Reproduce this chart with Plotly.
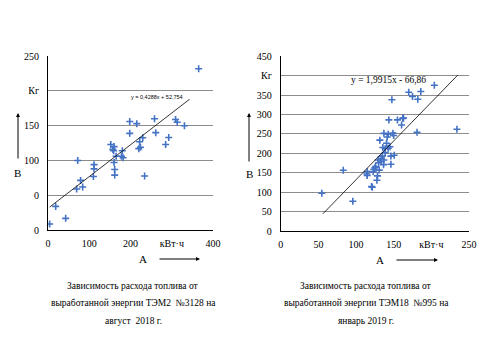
import plotly.graph_objects as go

# Left chart: ТЭМ2 №3128, август 2018
left_x = [4, 18.6, 42.8, 69.5, 72, 79, 84, 110, 111.5, 111.5, 152, 157, 160, 159, 160,
          161.6, 161.6, 165, 178, 180, 182, 198, 198, 215, 222, 220, 224, 229.5, 234,
          258, 261, 285, 292.5, 309, 313, 330.5, 365]
left_y = [8.6, 34, 16.8, 59, 100, 71.4, 61.8, 77, 88, 94, 123, 116, 120, 114, 97,
          87, 79, 106, 106, 114, 104, 156, 139, 153, 127, 117, 119, 132.7, 77.6,
          160, 140, 123, 133, 159, 155, 150, 232]
left_trend_x = [4, 343]
left_trend_y = [33, 188]
left_eq = "y = 0,4288x + 52,754"
left_yticks = [0, 50, 100, 150, 200, 250]
left_ytext = ["0", "0", "100", "150", "Кг", "250"]
left_xticks = [0, 100, 200, 300, 400]
left_xtext = ["0", "100", "200", "кВт·ч", "400"]
left_caption = ["Зависимость расхода топлива от",
                "выработанной энергии ТЭМ2  №3128 на",
                "август  2018 г."]

# Right chart: ТЭМ18 №995, январь 2019
right_x = [54.5, 83, 95.7, 114.4, 114.8, 115, 120.6, 121.5, 122.8, 123.7, 125, 126, 127.7,
           128.5, 129.4, 130, 130.8, 131.6, 133, 133.4, 134.8, 135.6, 136.5, 137, 137,
           138.7, 138.7, 140.5, 141.4, 142.7, 143.6, 142.7, 145, 146.3, 146.3, 147.6,
           149, 150, 150.7, 155, 160.5, 162, 163, 170, 175, 182, 186, 181, 204, 234]
right_y = [97.5, 156.5, 77, 147, 143, 153, 114.6, 113, 153, 159, 163, 166, 131,
           142, 183, 176, 157, 234, 179, 186.5, 193, 215, 171, 183, 251.5,
           212, 202, 226, 242, 249, 286, 213, 217, 172, 193, 338,
           252, 246, 195, 286, 273, 290, 291, 357, 346.5, 339, 359, 254, 375, 262]
right_slope = 1.9915
right_intercept = -66.86
right_trend_x = [56, 235]
right_eq = "y = 1,9915x - 66,86"
right_yticks = [0, 50, 100, 150, 200, 250, 300, 350, 400, 450]
right_ytext = ["0", "50", "100", "150", "200", "250", "300", "350", "Кг", "450"]
right_xticks = [0, 50, 100, 150, 200, 250]
right_xtext = ["0", "50", "100", "150", "кВт·ч", "250"]
right_caption = ["Зависимость расхода топлива от",
                 "выработанной энергии ТЭМ18  №995 на",
                 "январь 2019 г."]

FONT = "Liberation Serif, Times New Roman, serif"
BLUE = "#4472C4"

fig = go.Figure()
marker = dict(symbol="cross-thin", size=5, color=BLUE, line=dict(width=1.6, color=BLUE))

fig.add_trace(go.Scatter(x=left_x, y=left_y, mode="markers", marker=marker,
                         xaxis="x", yaxis="y", showlegend=False))
fig.add_trace(go.Scatter(x=left_trend_x, y=left_trend_y, mode="lines",
                         line=dict(color="black", width=0.8), xaxis="x", yaxis="y",
                         showlegend=False))
fig.add_trace(go.Scatter(x=right_x, y=right_y, mode="markers", marker=marker,
                         xaxis="x2", yaxis="y2", showlegend=False))
fig.add_trace(go.Scatter(x=right_trend_x,
                         y=[right_slope * v + right_intercept for v in right_trend_x],
                         mode="lines", line=dict(color="black", width=0.8),
                         xaxis="x2", yaxis="y2", showlegend=False))

axfont = dict(family=FONT, size=10, color="black")
common_x = dict(showgrid=False, showline=True, linecolor="black", linewidth=1,
                ticks="", tickfont=axfont, zeroline=False, automargin=False,
                ticklabelstandoff=4)
common_y = dict(showgrid=True, gridcolor="#8c8c8c", gridwidth=1, showline=True,
                linecolor="black", linewidth=1, ticks="", tickfont=axfont,
                zeroline=False, ticklabelstandoff=6, automargin=False)

fig.update_layout(
    width=480, height=360,
    margin=dict(l=0, r=0, t=0, b=0),
    paper_bgcolor="white", plot_bgcolor="white",
    font=dict(family=FONT, color="black"),
    xaxis=dict(common_x, domain=[0.1, 0.444], range=[0, 400], tickvals=left_xticks,
               ticktext=left_xtext, anchor="y"),
    yaxis=dict(common_y, domain=[0.361, 0.844], range=[0, 250], tickvals=left_yticks,
               ticktext=left_ytext, anchor="x"),
    xaxis2=dict(common_x, domain=[0.585, 0.977], range=[0, 250], tickvals=right_xticks,
                ticktext=right_xtext, anchor="y2"),
    yaxis2=dict(common_y, domain=[0.358, 0.844], range=[0, 450], tickvals=right_yticks,
                ticktext=right_ytext, anchor="x2"),
)


def px(x, y):
    return x / 480, 1 - y / 360


def text_ann(text, x, y, font):
    xx, yy = px(x, y)
    return dict(text=text, x=xx, y=yy, xref="paper", yref="paper", showarrow=False,
                xanchor="center", yanchor="middle", align="center", font=font)


ann = [
    text_ann(left_eq, 157, 97, dict(family="Liberation Sans", size=5.5)),
    text_ann(right_eq, 388, 80, dict(family=FONT, size=9.5)),
]

labels = [("В", 17, 173), ("А", 143, 259), ("В", 249, 174), ("А", 380, 260)]
for t, x, y in labels:
    ann.append(text_ann(t, x, y, dict(family=FONT, size=11)))

arrows = [((18, 160), (18, 113)), ((158, 259), (200, 259)),
          ((249, 163), (249, 113)), ((395, 260), (438, 260))]
for (x0, y0), (x1, y1) in arrows:
    tx, ty = px(x1, y1)
    ann.append(dict(x=tx, y=ty, ax=x0 - x1, ay=y0 - y1, xref="paper", yref="paper",
                    axref="pixel", ayref="pixel", text="", showarrow=True,
                    arrowhead=2, arrowsize=0.8, arrowwidth=1, arrowcolor="black"))

for lines, cx in [(left_caption, 133), (right_caption, 366)]:
    for line, cy in zip(lines, [286, 303, 321]):
        ann.append(text_ann(line, cx, cy, dict(family=FONT, size=9.5)))

fig.update_layout(annotations=ann)
fig.write_html("out.html", config={"displayModeBar": False},
               post_script="document.body.style.margin='0';")
